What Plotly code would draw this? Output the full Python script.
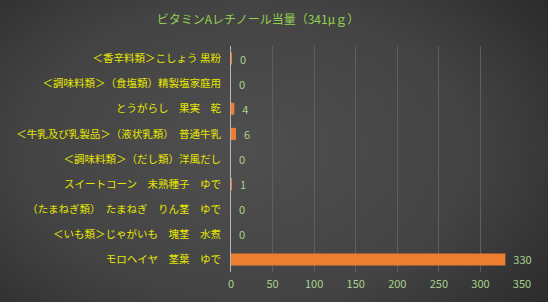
import base64
import plotly.graph_objects as go

title_text = "ビタミンAレチノール当量（341μｇ）"
categories = [
    "＜香辛料類＞こしょう 黒粉",
    "＜調味料類＞（食塩類）精製塩家庭用",
    "とうがらし　果実　乾",
    "＜牛乳及び乳製品＞（液状乳類）　普通牛乳",
    "＜調味料類＞（だし類）洋風だし",
    "スイートコーン　未熟種子　ゆで",
    "（たまねぎ類）　たまねぎ　りん茎　ゆで",
    "＜いも類＞じゃがいも　塊茎　水煮",
    "モロヘイヤ　茎葉　ゆで",
]
values = [0.4, 0, 4, 6, 0, 1, 0, 0, 330]
labels = ["0", "0", "4", "6", "0", "1", "0", "0", "330"]
x_ticks = [0, 50, 100, 150, 200, 250, 300, 350]

W, H = 548, 302
ml, mr, mt, mb = 231, 26, 46, 30
pw, ph = W - ml - mr, H - mt - mb

svg = f'''<svg xmlns="http://www.w3.org/2000/svg" width="{W}" height="{H}" viewBox="0 0 {W} {H}" preserveAspectRatio="none">
<defs><radialGradient id="g" cx="0.45" cy="0.5" r="0.75" gradientTransform="translate(0.45 0.5) scale(1 1.2) translate(-0.45 -0.5)">
<stop offset="0" stop-color="#4f4f4f"/><stop offset="0.55" stop-color="#434343"/><stop offset="1" stop-color="#262626"/></radialGradient></defs>
<rect width="{W}" height="{H}" fill="url(#g)"/></svg>'''
bg_uri = "data:image/svg+xml;base64," + base64.b64encode(svg.encode()).decode()

fig = go.Figure()
fig.add_trace(go.Bar(
    y=categories, x=values, orientation="h",
    marker=dict(color="#ed7d31", line=dict(width=0)),
    text=labels, texttemplate="\u00a0\u00a0%{text}",
    textposition="outside", cliponaxis=False, constraintext="none",
    outsidetextfont=dict(color="#a9d18e", size=11, family="Noto Sans CJK JP"),
    hoverinfo="skip",
))

fig.update_layout(
    width=W, height=H,
    margin=dict(l=ml, r=mr, t=mt, b=mb, pad=0),
    paper_bgcolor="#3c3c3c", plot_bgcolor="rgba(0,0,0,0)",
    bargap=0.52,
    showlegend=False,
    title=dict(text=title_text, x=258 / W, xanchor="center", y=1 - 20 / H, yanchor="middle",
               font=dict(color="#92d050", size=12, family="Noto Sans CJK JP")),
    images=[dict(source=bg_uri, xref="paper", yref="paper",
                 x=-ml / pw, y=1 + mt / ph, sizex=W / pw, sizey=H / ph,
                 xanchor="left", yanchor="top", sizing="stretch", layer="below")],
    xaxis=dict(range=[0, 350], tickvals=x_ticks, showgrid=True, gridcolor="#5e5e5e", gridwidth=1,
               zeroline=False, showline=False, ticks="", automargin=False,
               tickfont=dict(color="#a9d18e", size=11, family="Noto Sans CJK JP"),
               ticklabelstandoff=4, fixedrange=True),
    yaxis=dict(autorange="reversed", showgrid=False, zeroline=False, ticks="", automargin=False,
               showline=True, linecolor="#b8b8b8", linewidth=1,
               tickfont=dict(color="#e6e600", size=10.5, family="Noto Sans CJK JP"),
               ticklabelstandoff=7, fixedrange=True),
)

fig.write_html("out.html")
